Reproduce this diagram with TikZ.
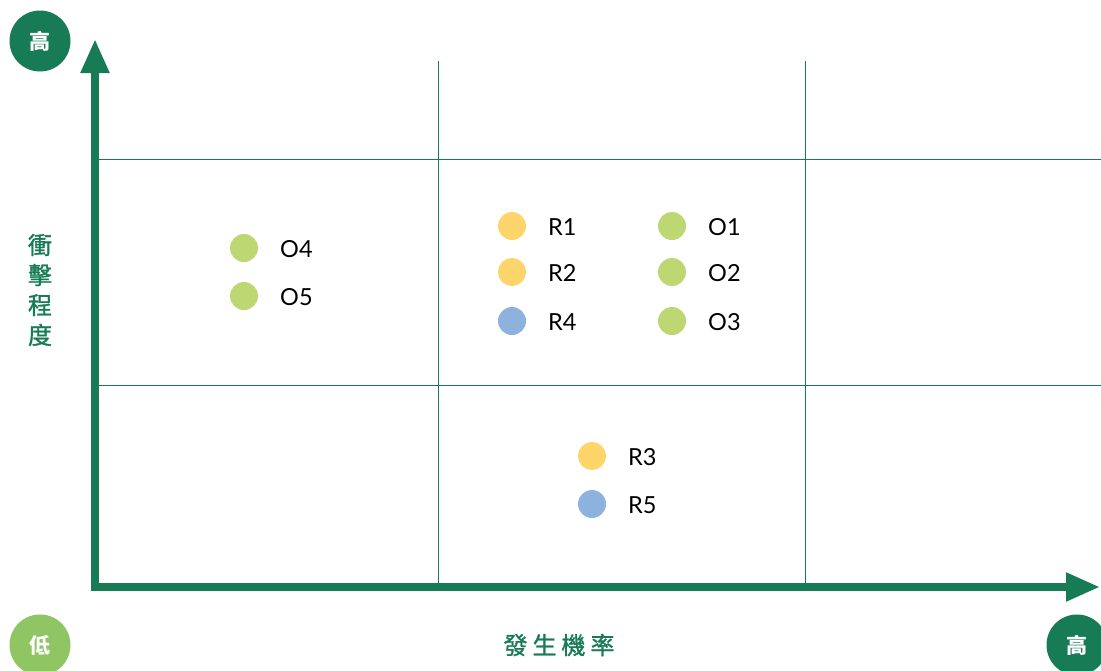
\documentclass[tikz,border=0pt]{standalone}
\usepackage{fontspec}
\setmainfont{Lato}
\newfontfamily\cjk{Noto Sans CJK TC}
\newfontfamily\cjkm[FakeBold=1.2]{Noto Sans CJK TC}
\usetikzlibrary{arrows.meta}
\definecolor{dgreen}{HTML}{177C56}
\definecolor{lgreen}{HTML}{8FC563}
\definecolor{dotyellow}{HTML}{FDD56B}
\definecolor{dotblue}{HTML}{8CB2DD}
\definecolor{dotgreen}{HTML}{BDD873}
\tikzset{
  gridline/.style={draw=dgreen, line width=0.9pt},
  axis/.style={draw=dgreen, line width=8pt, -{Triangle[length=34pt,width=27pt]}},
  badge/.style={circle, minimum size=61pt, inner sep=0pt, text=white, font=\cjk\bfseries\fontsize{21}{21}\selectfont},
  dot/.style={circle, minimum size=28pt, inner sep=0pt},
  lbl/.style={anchor=west, inner sep=0pt, font=\fontsize{23.5}{23.5}\selectfont, text=black},
  axlabel/.style={text=dgreen, font=\cjkm\fontsize{24}{30}\selectfont}
}
\begin{document}
\begin{tikzpicture}[x=1pt,y=-1pt]
\useasboundingbox (0,0) rectangle (1101,670);
\fill[white] (0,0) rectangle (1101,670);
% grid
\coordinate (v1t) at (438,61); \coordinate (v1b) at (438,583);
\coordinate (v2t) at (805,61); \coordinate (v2b) at (805,583);
\coordinate (h1l) at (99,159); \coordinate (h1r) at (1101,159);
\coordinate (h2l) at (99,385); \coordinate (h2r) at (1101,385);
\draw[gridline] (v1t) -- (v1b);
\draw[gridline] (v2t) -- (v2b);
\draw[gridline] (h1l) -- (h1r);
\draw[gridline] (h2l) -- (h2r);
% axes
\coordinate (origin) at (95,587);
\coordinate (ytip) at (95,39);
\coordinate (xtip) at (1100,587);
\draw[axis] (95,591) -- (ytip);
\draw[axis] (91,587) -- (xtip);
% badges
\node[badge, fill=dgreen] (hiY) at (40,41) {高};
\node[badge, fill=lgreen] (lo) at (40,645) {低};
\node[badge, fill=dgreen] (hiX) at (1077,645) {高};
% axis labels
\node[axlabel] (xl) at (559,645) {發\hspace{5pt}生\hspace{5pt}機\hspace{5pt}率};
\node[axlabel, align=center] (yl) at (40,290) {衝\\擊\\程\\度};
% dots
\node[dot, fill=dotyellow] (r1) at (512,226) {};
\node[lbl] at (548,227) {R1};
\node[dot, fill=dotyellow] (r2) at (512,272) {};
\node[lbl] at (548,273) {R2};
\node[dot, fill=dotblue] (r4) at (512,321) {};
\node[lbl] at (548,322) {R4};
\node[dot, fill=dotgreen] (o1) at (672,226) {};
\node[lbl] at (708,227) {O1};
\node[dot, fill=dotgreen] (o2) at (672,272) {};
\node[lbl] at (708,273) {O2};
\node[dot, fill=dotgreen] (o3) at (672,321) {};
\node[lbl] at (708,322) {O3};
\node[dot, fill=dotgreen] (o4) at (244,248) {};
\node[lbl] at (280,249) {O4};
\node[dot, fill=dotgreen] (o5) at (244,296) {};
\node[lbl] at (280,297) {O5};
\node[dot, fill=dotyellow] (r3) at (592,456) {};
\node[lbl] at (628,457) {R3};
\node[dot, fill=dotblue] (r5) at (592,504) {};
\node[lbl] at (628,505) {R5};
\end{tikzpicture}
\end{document}
